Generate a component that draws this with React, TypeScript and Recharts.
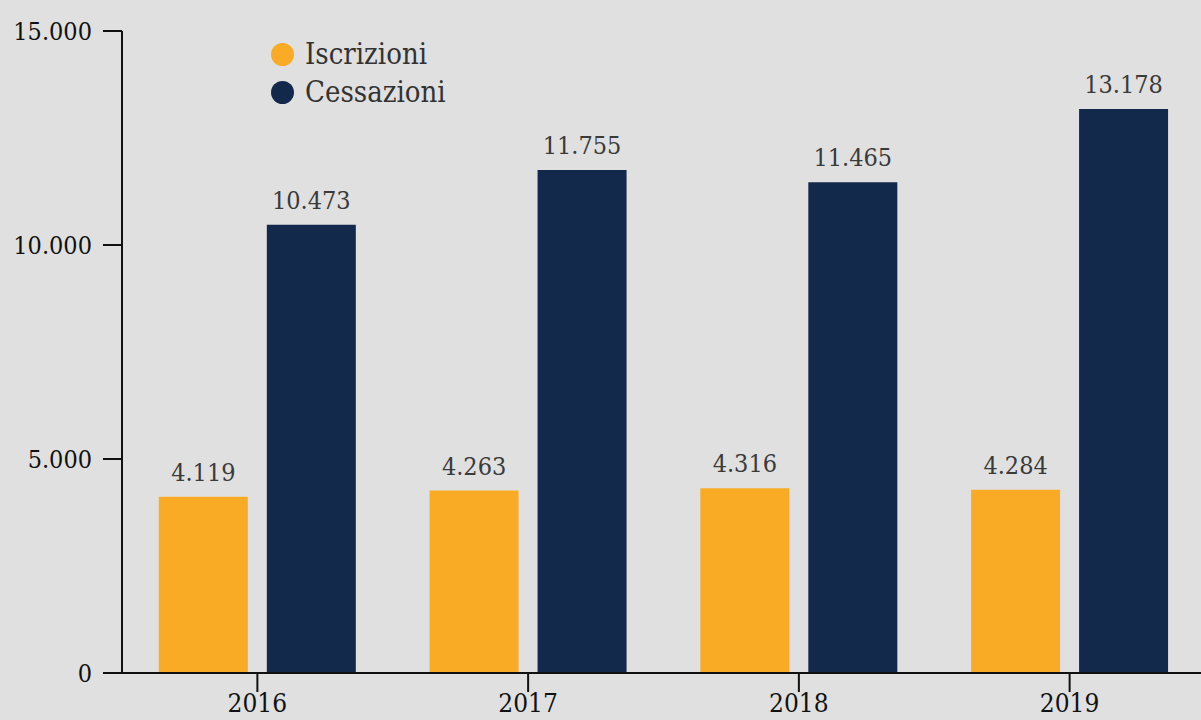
import { BarChart, Bar, XAxis, YAxis, LabelList } from 'recharts';

const YEARS = ['2016', '2017', '2018', '2019'];
const ISCRIZIONI = [4119, 4263, 4316, 4284];
const CESSAZIONI = [10473, 11755, 11465, 13178];
const Y_TICKS = [0, 5000, 10000, 15000];

const ORANGE = '#F9AB25';
const NAVY = '#13294B';
const FONT = '"Roboto Slab", "DejaVu Serif Condensed", "DejaVu Serif", serif';

// Italian thousands separator
const fmt = (v: number) => String(v).replace(/\B(?=(\d{3})+(?!\d))/g, '.');

const data = YEARS.map((year, i) => ({
  year,
  iscrizioni: ISCRIZIONI[i],
  cessazioni: CESSAZIONI[i],
}));

const LEGEND_ITEMS = [
  { label: 'Iscrizioni', color: ORANGE },
  { label: 'Cessazioni', color: NAVY },
];

function ChartLegend() {
  return (
    <div
      style={{
        position: 'absolute',
        left: 271,
        top: 35,
        fontFamily: FONT,
        fontSize: 29,
        color: '#333',
      }}
    >
      {LEGEND_ITEMS.map((item) => (
        <div key={item.label} style={{ display: 'flex', alignItems: 'center', height: 38 }}>
          <span
            style={{
              width: 23,
              height: 23,
              borderRadius: '50%',
              background: item.color,
              marginRight: 11,
            }}
          />
          {item.label}
        </div>
      ))}
    </div>
  );
}

export default function App() {
  return (
    <div
      style={{
        position: 'fixed',
        left: 0,
        top: 0,
        width: 1201,
        height: 720,
        background: '#e0e0e0',
        overflow: 'hidden',
      }}
    >
      <BarChart
        width={1210}
        height={720}
        data={data}
        margin={{ top: 31, right: 5, bottom: 0, left: 0 }}
        barCategoryGap="13.6%"
        barGap={19}
      >
        <XAxis
          dataKey="year"
          height={47}
          tickSize={19}
          tickMargin={2}
          axisLine={{ stroke: '#111', strokeWidth: 2 }}
          tickLine={{ stroke: '#111', strokeWidth: 2 }}
          tick={{ fill: '#111', fontSize: 26, fontFamily: FONT }}
        />
        <YAxis
          width={122}
          domain={[0, 15000]}
          ticks={Y_TICKS}
          tickSize={19}
          tickMargin={11}
          tickFormatter={fmt}
          axisLine={{ stroke: '#111', strokeWidth: 2 }}
          tickLine={{ stroke: '#111', strokeWidth: 2 }}
          tick={{ fill: '#111', fontSize: 25, fontFamily: FONT }}
        />
        <Bar dataKey="iscrizioni" fill={ORANGE} isAnimationActive={false}>
          <LabelList
            dataKey="iscrizioni"
            position="top"
            offset={16}
            formatter={(v: number) => fmt(v)}
            style={{ fill: '#3a3a3a', fontSize: 25, fontFamily: FONT }}
          />
        </Bar>
        <Bar dataKey="cessazioni" fill={NAVY} isAnimationActive={false}>
          <LabelList
            dataKey="cessazioni"
            position="top"
            offset={16}
            formatter={(v: number) => fmt(v)}
            style={{ fill: '#3a3a3a', fontSize: 25, fontFamily: FONT }}
          />
        </Bar>
      </BarChart>
      <ChartLegend />
    </div>
  );
}
